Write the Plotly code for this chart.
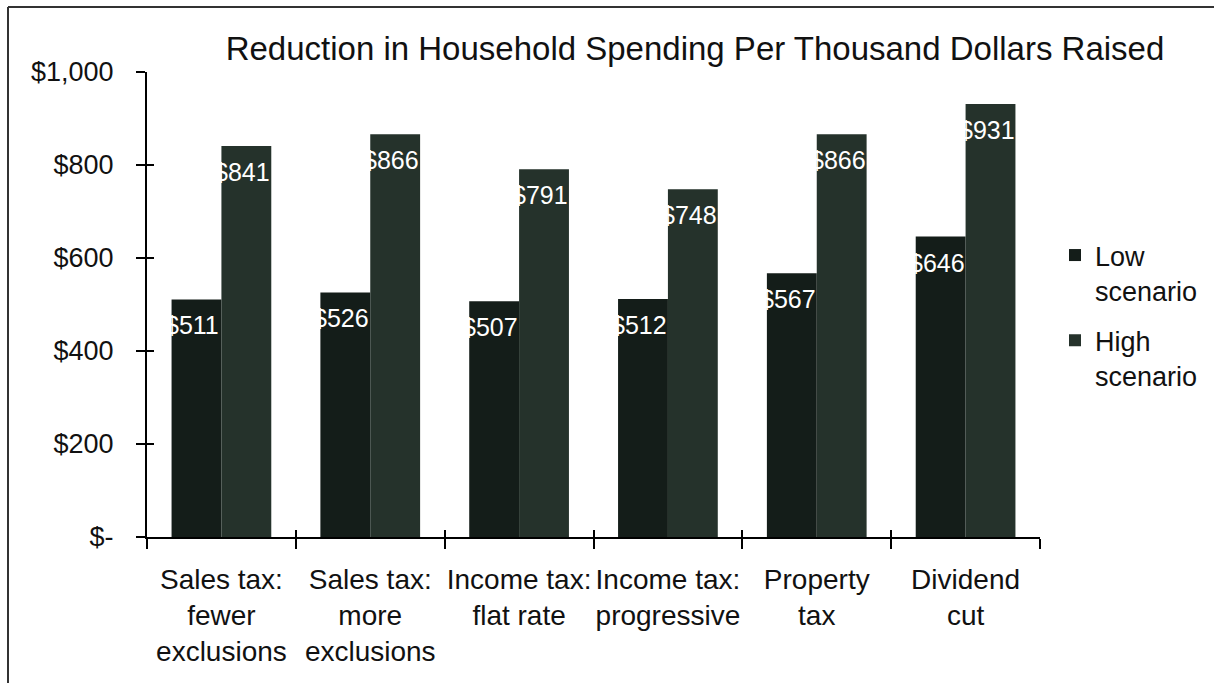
import plotly.graph_objects as go

# Chart data
categories = [
    "Sales tax:<br>fewer<br>exclusions",
    "Sales tax:<br>more<br>exclusions",
    "Income tax:<br>flat rate",
    "Income tax:<br>progressive",
    "Property<br>tax",
    "Dividend<br>cut",
]
low_scenario = [511, 526, 507, 512, 567, 646]
high_scenario = [841, 866, 791, 748, 866, 931]
series_names = ["Low<br>scenario", "High<br>scenario"]
y_tick_values = [0, 200, 400, 600, 800, 1000]
y_tick_labels = ["$-", "$200", "$400", "$600", "$800", "$1,000"]
title_text = "Reduction in Household Spending Per Thousand Dollars Raised"

# Page / layout geometry (pixels)
W, H = 1214, 683
ML, MR, MT, MB = 147, 174, 72, 146
PW, PH = W - ML - MR, H - MT - MB
BARGAP = 0.33

FONT = "Liberation Sans, Arial, sans-serif"
TXT = "#111111"
LOW_COLOR = "#141d19"
HIGH_COLOR = "#25322b"


def px_to_paper_x(px):
    return (px - ML) / PW


def px_to_paper_y(py):
    return (H - MB - py) / PH


fig = go.Figure()

fig.add_trace(go.Bar(
    x=categories, y=low_scenario, name=series_names[0], legendgroup="low",
    marker=dict(color=LOW_COLOR, line=dict(width=0)),
))
fig.add_trace(go.Bar(
    x=categories, y=high_scenario, name=series_names[1], legendgroup="high",
    marker=dict(color=HIGH_COLOR, line=dict(width=0)),
))

# fully transparent copy on the overlay axes so their inside ticks render
fig.add_trace(go.Bar(
    x=categories, y=low_scenario, xaxis="x2", yaxis="y2",
    opacity=0, marker=dict(line=dict(width=0)),
    showlegend=False, hoverinfo="skip",
))

# value labels inside the top of each bar
cat_px = PW / len(categories)
shift = (1 - BARGAP) * cat_px / 4
annotations = []
for series, dx in ((low_scenario, -shift), (high_scenario, shift)):
    for cat, val in zip(categories, series):
        annotations.append(dict(
            x=cat, y=val, xref="x", yref="y",
            text=f"${val:,}", showarrow=False,
            xshift=dx - 4, yshift=-26,
            font=dict(family=FONT, size=25, color="white"),
        ))

axis_common = dict(showgrid=False, zeroline=False, automargin=False)

fig.update_layout(
    width=W, height=H,
    margin=dict(l=ML, r=MR, t=MT, b=MB, pad=0, autoexpand=False),
    paper_bgcolor="white", plot_bgcolor="white",
    barmode="group", bargap=BARGAP, bargroupgap=0,
    font=dict(family=FONT, size=27, color=TXT),
    title=dict(
        text=title_text, x=695 / W, xanchor="center",
        y=1 - 48 / H, yanchor="middle",
        font=dict(family=FONT, size=33, color=TXT),
    ),
    xaxis=dict(
        **axis_common, type="category", range=[-0.5, 5.5],
        showline=True, linecolor="black", linewidth=2,
        ticks="outside", ticklen=10, tickwidth=2, tickcolor="black",
        tickson="boundaries", ticklabelstandoff=16, tickangle=0,
        tickfont=dict(family=FONT, size=28, color=TXT),
    ),
    xaxis2=dict(
        **axis_common, type="category", range=[-0.5, 5.5],
        overlaying="x", anchor="y2", showline=False,
        ticks="inside", ticklen=7, tickwidth=2, tickcolor="black",
        tickson="boundaries", showticklabels=False,
    ),
    yaxis=dict(
        **axis_common, range=[0, 1000],
        showline=True, linecolor="black", linewidth=2,
        tickvals=y_tick_values, ticktext=y_tick_labels,
        ticks="outside", ticklen=9, tickwidth=2, tickcolor="black",
        ticklabelstandoff=17,
        tickfont=dict(family=FONT, size=27, color=TXT),
    ),
    yaxis2=dict(
        **axis_common, range=[0, 1000], overlaying="y", anchor="x2",
        showline=False, tickvals=y_tick_values,
        ticks="inside", ticklen=7, tickwidth=2, tickcolor="black",
        showticklabels=False,
    ),
    legend=dict(
        x=px_to_paper_x(1055), y=px_to_paper_y(231),
        xanchor="left", yanchor="top",
        font=dict(family=FONT, size=27, color=TXT),
        valign="top", itemsizing="constant",
        tracegroupgap=12, bgcolor="rgba(0,0,0,0)",
    ),
    annotations=annotations,
    shapes=[
        # chart frame: left and top edges
        dict(type="line", xref="paper", yref="paper",
             x0=px_to_paper_x(8), x1=px_to_paper_x(8),
             y0=px_to_paper_y(7), y1=px_to_paper_y(H + 5),
             line=dict(color="#333333", width=2)),
        dict(type="line", xref="paper", yref="paper",
             x0=px_to_paper_x(8), x1=px_to_paper_x(W + 5),
             y0=px_to_paper_y(7), y1=px_to_paper_y(7),
             line=dict(color="#333333", width=2)),
    ],
)

fig.write_html("out.html")
